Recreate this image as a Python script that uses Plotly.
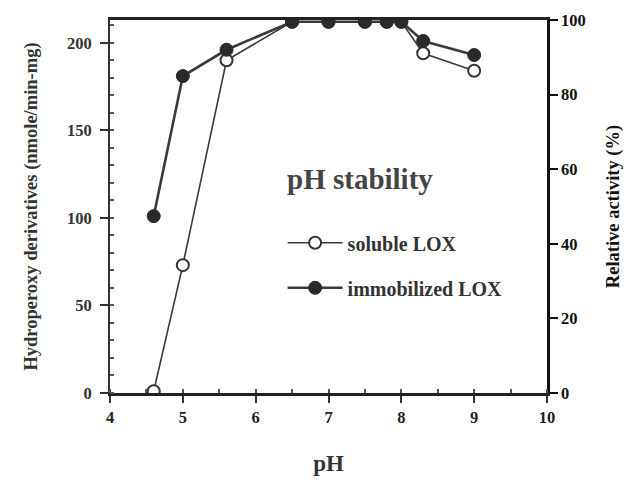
import plotly.graph_objects as go

ph = [4.6, 5.0, 5.6, 6.5, 7.0, 7.5, 7.8, 8.0, 8.3, 9.0]
soluble = [1, 73, 190, 212, 212, 212, 212, 212, 194, 184]
immobilized = [101, 181, 196, 212, 212, 212, 212, 212, 201, 193]

left_ticks = [0, 50, 100, 150, 200]
right_ticks = [0, 20, 40, 60, 80, 100]
x_ticks = [4, 5, 6, 7, 8, 9, 10]

FONT = "Liberation Serif"
fig = go.Figure()
fig.add_trace(go.Scatter(
    x=ph, y=soluble, mode="lines+markers", name="<b>soluble LOX</b>", legendgroup="a",
    line=dict(color="#3a3a3a", width=1.6),
    marker=dict(symbol="circle", size=12, color="white", line=dict(color="#333", width=2)),
))
fig.add_trace(go.Scatter(
    x=ph, y=immobilized, mode="lines+markers", name="<b>immobilized LOX</b>", legendgroup="b",
    line=dict(color="#3a3a3a", width=2.6),
    marker=dict(symbol="circle", size=13, color="#2a2a2a", line=dict(color="#2a2a2a", width=1)),
))
# invisible trace for right axis
fig.add_trace(go.Scatter(x=[4], y=[0], yaxis="y2", mode="markers",
                         marker=dict(opacity=0), showlegend=False, hoverinfo="skip"))

tf = lambda c: dict(family=FONT, size=16.5, color=c)
bold = lambda vals: [f"<b>{v}</b>" for v in vals]

fig.update_layout(
    width=638, height=484,
    margin=dict(l=102, r=99, t=12, b=99),
    plot_bgcolor="white", paper_bgcolor="white",
    font=dict(family=FONT, size=15, color="#222"),
    showlegend=True,
    legend=dict(x=0.395, y=0.455, xanchor="left", yanchor="top",
                bgcolor="rgba(0,0,0,0)",
                font=dict(size=20, family=FONT, color="#333"),
                itemwidth=55, tracegroupgap=16),
    xaxis=dict(range=[4, 10], tickvals=x_ticks, ticktext=bold(x_ticks), ticks="outside", ticklen=7,
               tickwidth=1.5, tickcolor="#333", automargin=False,
               showline=True, linecolor="#222", linewidth=2.5, mirror=True,
               showgrid=False, zeroline=False,
               tickfont=tf("#222"),
               minor=dict(dtick=0.5, ticks="inside", ticklen=4, tickcolor="#555"),
               title=dict(text="<b>pH</b>", font=dict(family=FONT, size=23, color="#333"), standoff=30)),
    yaxis=dict(range=[0, 213], tickvals=left_ticks, ticktext=bold(left_ticks), ticks="outside", ticklen=8,
               tickwidth=1.5, tickcolor="#333", automargin=False, ticklabelstandoff=5,
               showline=True, linecolor="#333", linewidth=2,
               showgrid=False, zeroline=False,
               tickfont=tf("#333"),
               minor=dict(dtick=10, ticks="inside", ticklen=4, tickcolor="#555"),
               title=dict(text="<b>Hydroperoxy derivatives (nmole/min-mg)</b>",
                          font=dict(family=FONT, size=18.5, color="#333"), standoff=24)),
    yaxis2=dict(range=[0, 100], tickvals=right_ticks, ticktext=bold(right_ticks), overlaying="y", side="right",
                ticks="outside", ticklen=8, tickwidth=1.5, tickcolor="#111", automargin=False,
                showline=True, linecolor="#111", linewidth=2.5,
                showgrid=False, zeroline=False,
                tickfont=tf("#111"),
                title=dict(text="<b>Relative activity (%)</b>",
                           font=dict(family=FONT, size=18.5, color="#111"), standoff=22)),
    annotations=[dict(text="<b>pH stability</b>", x=0.40, y=0.575, xref="paper", yref="paper",
                      xanchor="left", yanchor="middle", showarrow=False,
                      font=dict(family=FONT, size=29, color="#444"))],
)

fig.write_html("out.html")
